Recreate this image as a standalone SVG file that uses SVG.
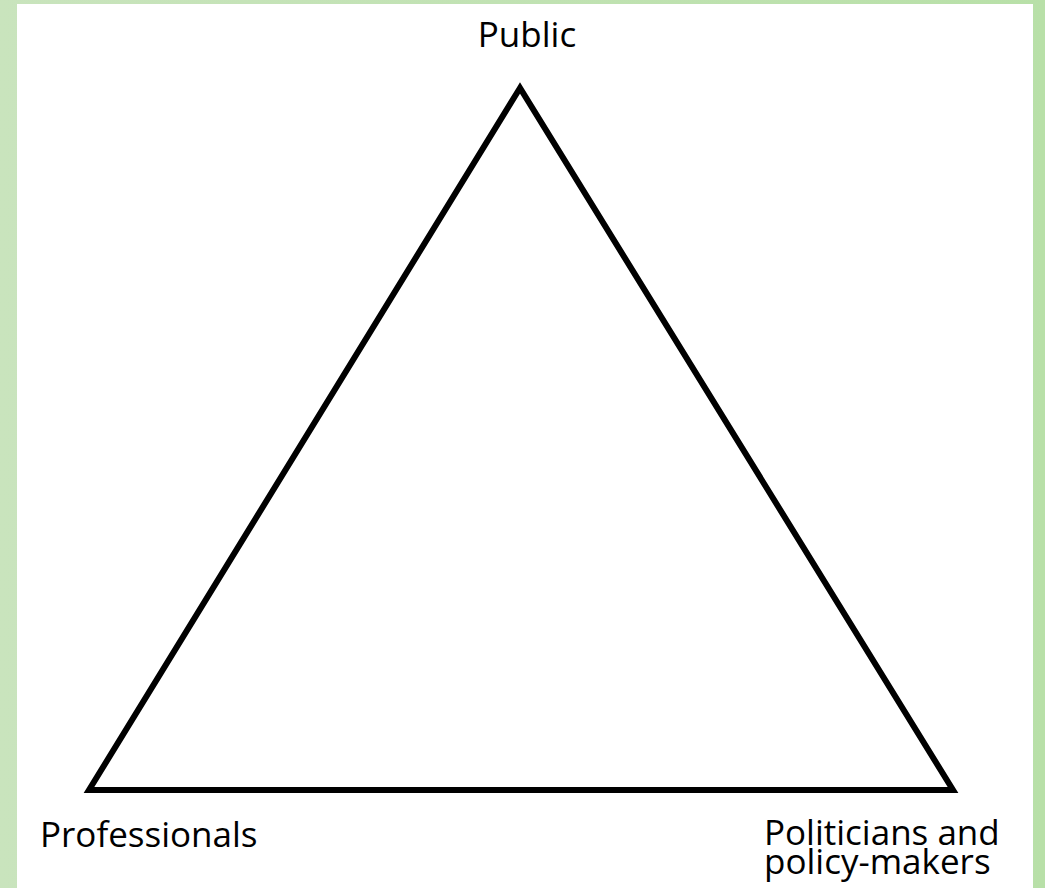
<svg xmlns="http://www.w3.org/2000/svg" width="1045" height="888" viewBox="0 0 1045 888">
<defs>
<linearGradient id="bg" x1="0" y1="0" x2="1" y2="0">
<stop offset="0" stop-color="#c9e4bd"/>
<stop offset="1" stop-color="#b8e0a8"/>
</linearGradient>
<style>
.lbl{font-family:"Open Sans","Liberation Sans",sans-serif;font-size:35px;fill:#000;}
.edge{fill:none;stroke:#000;stroke-width:6;stroke-linejoin:miter;}
</style>
</defs>
<rect x="0" y="0" width="1045" height="888" fill="url(#bg)"/>
<rect x="17" y="4" width="1016" height="884" fill="#fff"/>
<g id="connectors">
<polygon class="edge" points="520,88 89,790 953,790"/>
</g>
<g id="public"><text class="lbl" x="527" y="47" text-anchor="middle">Public</text></g>
<g id="professionals"><text class="lbl" x="40" y="847">Professionals</text></g>
<g id="politicians"><text class="lbl" x="764" y="845">Politicians and</text><text class="lbl" x="764" y="874">policy-makers</text></g>
</svg>
